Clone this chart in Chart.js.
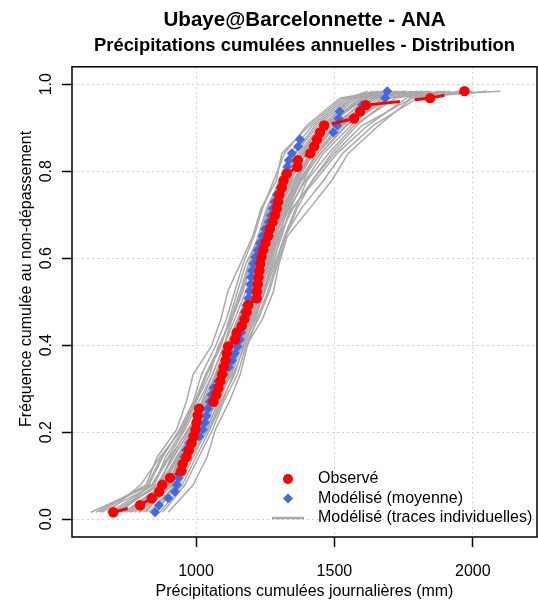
<!DOCTYPE html>
<html>
<head>
<meta charset="utf-8">
<script src="https://cdn.jsdelivr.net/npm/chart.js@4/dist/chart.umd.min.js"></script>
<style>
  body { margin: 0; background: #fff; }
</style>
</head>
<body>
<canvas id="chart" width="538" height="601"></canvas>
<script>
// cumulative frequency of each ranked year (62 years)
const freq = [
  0.016, 0.032, 0.048, 0.063, 0.079, 0.095, 0.111, 0.127, 0.143, 0.159,
  0.175, 0.190, 0.206, 0.222, 0.238, 0.254, 0.270, 0.286, 0.302, 0.317,
  0.333, 0.349, 0.365, 0.381, 0.397, 0.413, 0.429, 0.444, 0.460, 0.476,
  0.492, 0.508, 0.524, 0.540, 0.556, 0.571, 0.587, 0.603, 0.619, 0.635,
  0.651, 0.667, 0.683, 0.698, 0.714, 0.730, 0.746, 0.762, 0.778, 0.794,
  0.810, 0.825, 0.841, 0.857, 0.873, 0.889, 0.905, 0.921, 0.937, 0.952,
  0.968, 0.984
];

const observed = [
  701, 798, 840, 867, 878, 906, 947, 952, 966, 974,
  984, 991, 998, 1002, 1006, 1011, 1063, 1073, 1081, 1088,
  1094, 1100, 1107, 1111, 1116, 1141, 1147, 1165, 1175, 1183,
  1189, 1219, 1220, 1223, 1226, 1229, 1232, 1237, 1243, 1251,
  1261, 1267, 1277, 1285, 1292, 1297, 1301, 1310, 1316, 1328,
  1366, 1368, 1413, 1427, 1437, 1448, 1463, 1571, 1593, 1614,
  1846, 1970
];

const modelMean = [
  852, 866, 900, 924, 931, 937, 944, 950, 957, 964,
  975, 1012, 1024, 1032, 1038, 1043, 1050, 1056, 1063, 1080,
  1100, 1118, 1130, 1140, 1150, 1158, 1163, 1168, 1172, 1176,
  1182, 1189, 1193, 1196, 1199, 1202, 1208, 1214, 1222, 1231,
  1240, 1250, 1262, 1270, 1277, 1283, 1292, 1305, 1318, 1325,
  1330, 1335, 1346, 1369, 1376, 1496, 1510, 1515, 1519, 1600,
  1683, 1691
];

// individual member traces, read at every 4th rank
const traceFreq = [0.016, 0.079, 0.143, 0.206, 0.270, 0.333, 0.397, 0.460, 0.524,
  0.587, 0.651, 0.714, 0.778, 0.841, 0.905, 0.968, 0.984];

const traces = [
  [620, 840, 900, 960, 1010, 1060, 1100, 1140, 1180, 1215, 1250, 1290, 1340, 1400, 1480, 1600, 1750],
  [700, 860, 920, 980, 1030, 1080, 1120, 1160, 1200, 1235, 1270, 1310, 1360, 1420, 1500, 1650, 2100],
  [760, 890, 950, 1000, 1050, 1095, 1135, 1180, 1215, 1250, 1285, 1330, 1380, 1450, 1540, 1700, 1900],
  [800, 910, 970, 1020, 1065, 1110, 1150, 1190, 1230, 1265, 1300, 1350, 1420, 1500, 1600, 1780, 2000],
  [850, 940, 990, 1040, 1080, 1125, 1165, 1210, 1250, 1285, 1320, 1380, 1460, 1530, 1640, 1800, 1950],
  [880, 960, 1010, 1060, 1100, 1150, 1180, 1240, 1280, 1300, 1330, 1410, 1490, 1550, 1660, 1780, 2050],
  [680, 800, 870, 950, 1000, 1040, 1090, 1120, 1150, 1180, 1230, 1260, 1300, 1340, 1420, 1540, 1680],
  [730, 830, 880, 940, 990, 1020, 1070, 1110, 1140, 1170, 1210, 1240, 1280, 1320, 1400, 1520, 1660],
  [780, 870, 910, 970, 1040, 1070, 1110, 1150, 1190, 1225, 1255, 1285, 1320, 1360, 1440, 1560, 1720],
  [820, 900, 940, 1010, 1050, 1100, 1140, 1170, 1210, 1245, 1275, 1300, 1345, 1380, 1460, 1600, 1800],
  [860, 920, 960, 1030, 1070, 1130, 1160, 1200, 1240, 1275, 1310, 1340, 1390, 1430, 1520, 1680, 1850],
  [900, 990, 1040, 1070, 1120, 1160, 1185, 1220, 1260, 1290, 1320, 1360, 1400, 1480, 1570, 1720, 1880],
  [640, 820, 860, 930, 965, 990, 1055, 1090, 1115, 1160, 1205, 1235, 1290, 1310, 1410, 1530, 1700],
  [740, 880, 930, 990, 1020, 1060, 1100, 1130, 1170, 1200, 1240, 1270, 1310, 1370, 1450, 1580, 1760],
  [660, 850, 890, 955, 1000, 1050, 1080, 1130, 1165, 1195, 1230, 1265, 1320, 1390, 1470, 1590, 1730],
  [710, 870, 930, 1000, 1060, 1090, 1125, 1170, 1205, 1240, 1265, 1305, 1350, 1410, 1490, 1630, 1820],
  [790, 900, 960, 1010, 1055, 1115, 1150, 1195, 1235, 1260, 1290, 1320, 1370, 1440, 1530, 1660, 1780],
  [840, 930, 980, 1045, 1090, 1140, 1170, 1215, 1245, 1280, 1305, 1345, 1430, 1510, 1620, 1760, 1920],
  [750, 880, 940, 995, 1040, 1085, 1120, 1165, 1200, 1230, 1262, 1295, 1335, 1385, 1465, 1575, 1690],
  [690, 845, 905, 975, 1025, 1070, 1110, 1155, 1190, 1222, 1258, 1292, 1332, 1378, 1455, 1565, 1640],
  [770, 895, 955, 1005, 1045, 1100, 1140, 1175, 1220, 1255, 1280, 1315, 1365, 1425, 1505, 1615, 1700],
  [810, 915, 965, 1015, 1060, 1105, 1145, 1185, 1225, 1258, 1288, 1325, 1375, 1440, 1515, 1640, 1760],
  [720, 860, 915, 985, 1035, 1075, 1115, 1160, 1195, 1230, 1268, 1300, 1342, 1395, 1475, 1610, 1670],
  [870, 950, 1000, 1050, 1095, 1135, 1175, 1225, 1265, 1295, 1325, 1365, 1420, 1490, 1580, 1700, 1800],
  [650, 825, 875, 945, 995, 1035, 1085, 1125, 1160, 1190, 1225, 1255, 1305, 1355, 1430, 1550, 1620],
  [795, 905, 945, 1025, 1075, 1120, 1155, 1205, 1245, 1270, 1300, 1330, 1380, 1450, 1545, 1690, 1840],
  [830, 925, 975, 1035, 1085, 1120, 1160, 1200, 1235, 1265, 1295, 1335, 1395, 1460, 1560, 1670, 1730],
  [760, 885, 935, 1005, 1055, 1095, 1130, 1180, 1210, 1245, 1282, 1318, 1355, 1415, 1500, 1620, 1710]
];

const xTicks = [1000, 1500, 2000];
const yTicks = [0, 0.2, 0.4, 0.6, 0.8, 1.0];

const titleText = 'Ubaye@Barcelonnette - ANA';
const subtitleText = 'Précipitations cumulées annuelles - Distribution';
const xTitle = 'Précipitations cumulées journalières (mm)';
const yTitle = 'Fréquence cumulée au non-dépassement';

const fontFamily = '"Liberation Sans", Arial, Helvetica, sans-serif';
const red = '#ff0000';
const blue = '#4169e1';
const gray = '#a9a9a9';

Chart.defaults.font.family = fontFamily;
Chart.defaults.color = '#000';

const toPoints = (xs, ys) => xs.map((x, i) => ({ x: x, y: ys[i] }));

const traceSets = traces.map((t, k) => ({
  label: k === 0 ? 'Modélisé (traces individuelles)' : '',
  data: toPoints(t, traceFreq),
  showLine: true,
  borderColor: gray,
  borderWidth: 1.5,
  pointRadius: 0,
  order: 3,
}));

const meanSet = {
  label: 'Modélisé (moyenne)',
  data: toPoints(modelMean, freq),
  showLine: false,
  pointStyle: 'rectRot',
  pointRadius: 5,
  pointBackgroundColor: blue,
  pointBorderWidth: 0,
  order: 2,
};

const obsSet = {
  label: 'Observé',
  data: toPoints(observed, freq),
  showLine: true,
  borderColor: red,
  borderWidth: 3,
  borderDash: [30, 15],
  borderDashOffset: 15,
  pointRadius: 5.2,
  pointBackgroundColor: red,
  pointBorderWidth: 0,
  order: 1,
};

// plot frame, rotated y title and the legend in the lower right corner
const extras = {
  id: 'extras',
  afterDraw(chart) {
    const { ctx, chartArea: a } = chart;
    ctx.save();
    ctx.strokeStyle = '#000';
    ctx.lineWidth = 1.5;
    ctx.strokeRect(a.left, a.top, a.right - a.left, a.bottom - a.top);

    ctx.font = '16px ' + fontFamily;
    ctx.fillStyle = '#000';
    ctx.save();
    ctx.translate(27, 279);
    ctx.rotate(-Math.PI / 2);
    ctx.textAlign = 'center';
    ctx.textBaseline = 'middle';
    ctx.fillText(yTitle, 0, 0);
    ctx.restore();

    const sx = a.right - 249;
    const tx = a.right - 219;
    const rows = [a.bottom - 58, a.bottom - 38.5, a.bottom - 19];
    ctx.textAlign = 'left';
    ctx.textBaseline = 'middle';

    ctx.fillStyle = red;
    ctx.beginPath();
    ctx.arc(sx, rows[0], 5, 0, Math.PI * 2);
    ctx.fill();

    ctx.fillStyle = blue;
    ctx.beginPath();
    ctx.moveTo(sx - 5, rows[1]);
    ctx.lineTo(sx, rows[1] - 5);
    ctx.lineTo(sx + 5, rows[1]);
    ctx.lineTo(sx, rows[1] + 5);
    ctx.closePath();
    ctx.fill();

    ctx.strokeStyle = gray;
    ctx.lineWidth = 2.5;
    ctx.beginPath();
    ctx.moveTo(sx - 16, rows[2]);
    ctx.lineTo(sx + 16, rows[2]);
    ctx.stroke();

    ctx.fillStyle = '#000';
    ctx.fillText(obsSet.label, tx, rows[0]);
    ctx.fillText(meanSet.label, tx, rows[1]);
    ctx.fillText(traceSets[0].label, tx, rows[2]);
    ctx.restore();
  }
};

new Chart(document.getElementById('chart'), {
  type: 'scatter',
  data: { datasets: [obsSet, meanSet].concat(traceSets) },
  options: {
    responsive: false,
    animation: false,
    devicePixelRatio: 1,
    events: [],
    layout: { autoPadding: false, padding: { right: 1 } },
    plugins: {
      legend: { display: false },
      tooltip: { enabled: false },
      title: {
        display: true,
        text: titleText,
        fullSize: false,
        font: { size: 20.6, weight: 'bold' },
        padding: { top: 8, bottom: 0 },
      },
      subtitle: {
        display: true,
        text: subtitleText,
        fullSize: false,
        color: '#000',
        font: { size: 18.4, weight: 'bold' },
        padding: { top: 2, bottom: 10 },
      },
    },
    scales: {
      x: {
        type: 'linear',
        min: 552,
        max: 2232,
        afterFit: s => { s.height = 64; },
        afterBuildTicks: s => { s.ticks = xTicks.map(v => ({ value: v })); },
        grid: {
          color: '#d3d3d3',
          lineWidth: 1,
          tickLength: 10,
          tickColor: '#000',
          tickWidth: 1.5,
          tickBorderDash: [],
        },
        border: { display: false, dash: [2, 3] },
        ticks: {
          font: { size: 16 },
          padding: 15,
          maxRotation: 0,
          callback: v => String(v),
        },
        title: {
          display: true,
          text: xTitle,
          font: { size: 16 },
          padding: { top: 0, bottom: 0 },
        },
      },
      y: {
        type: 'linear',
        min: -0.041,
        max: 1.04,
        afterFit: s => { s.width = 72; },
        afterBuildTicks: s => { s.ticks = yTicks.map(v => ({ value: v })); },
        grid: {
          color: '#d3d3d3',
          lineWidth: 1,
          tickLength: 10,
          tickColor: '#000',
          tickWidth: 1.5,
          tickBorderDash: [],
        },
        border: { display: false, dash: [2, 3] },
        ticks: {
          font: { size: 16 },
          padding: 4,
          minRotation: 90,
          maxRotation: 90,
          crossAlign: 'center',
          callback: v => v.toFixed(1),
        },
      },
    },
  },
  plugins: [extras],
});
</script>
</body>
</html>
